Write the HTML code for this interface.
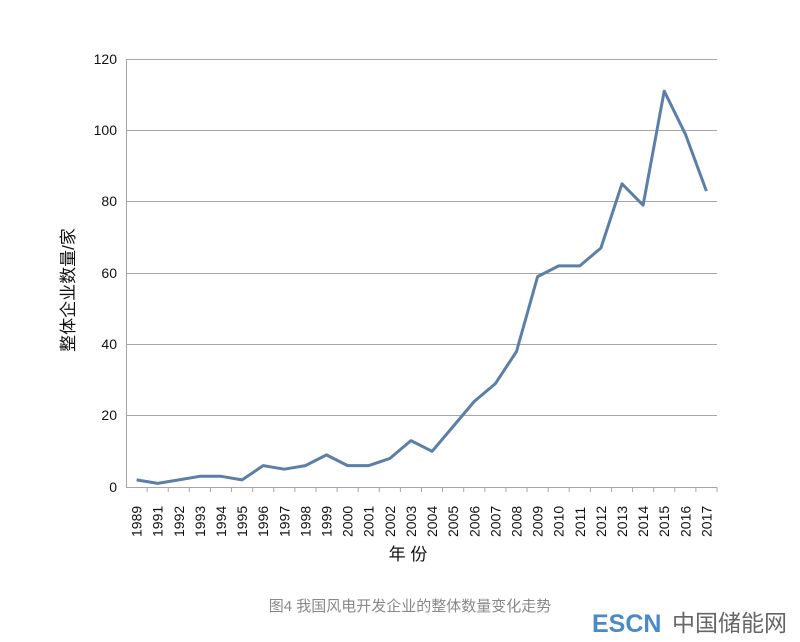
<!DOCTYPE html><html><head><meta charset="utf-8"><style>body{margin:0;background:#fff}svg{display:block}</style></head><body>
<svg width="800" height="642" xmlns="http://www.w3.org/2000/svg" font-family="Liberation Sans, Noto Sans CJK SC, sans-serif">
<g stroke="#a6a6a6" stroke-width="1">
<line x1="126" y1="59.5" x2="717" y2="59.5"/><line x1="126" y1="130.5" x2="717" y2="130.5"/><line x1="126" y1="201.5" x2="717" y2="201.5"/><line x1="126" y1="273.5" x2="717" y2="273.5"/><line x1="126" y1="344.5" x2="717" y2="344.5"/><line x1="126" y1="415.5" x2="717" y2="415.5"/>
<line x1="126.5" y1="59" x2="126.5" y2="487"/><line x1="126" y1="487.5" x2="717" y2="487.5"/>
</g>
<g id="ticks" stroke="#a6a6a6"></g>
<g font-size="14" fill="#111" text-anchor="end">
<text x="117" y="64">120</text><text x="117" y="135">100</text><text x="117" y="206">80</text><text x="117" y="278">60</text><text x="117" y="349">40</text><text x="117" y="420">20</text><text x="117" y="492">0</text>
</g>
<g id="xl" font-size="14" fill="#111"></g>
<polyline id="ln" fill="none" stroke="#5b7fa6" stroke-width="3" stroke-linejoin="round"/>
<text x="74" y="290" font-size="17" fill="#111" text-anchor="middle" transform="rotate(-90 74 290)">整体企业数量/家</text>
<text x="408" y="560" font-size="17" fill="#111" text-anchor="middle">年 份</text>
<text x="410" y="611" font-size="15" fill="#888" text-anchor="middle">图4  我国风电开发企业的整体数量变化走势</text>
<text x="592" y="632" font-size="25" font-weight="bold" fill="#4a8ac9">ESCN</text>
<text x="672" y="631" font-size="23" fill="#666">中国储能网</text>
</svg>
<script>
var yrs=[1989,1991,1992,1993,1994,1995,1996,1997,1998,1999,2000,2001,2002,2003,2004,2005,2006,2007,2008,2009,2010,2011,2012,2013,2014,2015,2016,2017];
var v=[2,1,2,3,3,2,6,5,6,9,6,6,8,13,10,17,24,29,38,59,62,62,67,85,79,111,99,83];
var s=591/28,pts=[],xl='',tk='';
for(var i=0;i<28;i++){var x=126+s*(i+0.5);pts.push(x.toFixed(1)+','+(487-v[i]*3.5667).toFixed(1));
xl+='<text transform="translate('+(x+5)+',537) rotate(-90)">'+yrs[i]+'</text>';
tk+='<line x1="'+(126+s*(i+1))+'" y1="487" x2="'+(126+s*(i+1))+'" y2="492"/>';}
document.getElementById('ln').setAttribute('points',pts.join(' '));
document.getElementById('xl').innerHTML=xl;document.getElementById('ticks').innerHTML=tk;
</script>
</body></html>
